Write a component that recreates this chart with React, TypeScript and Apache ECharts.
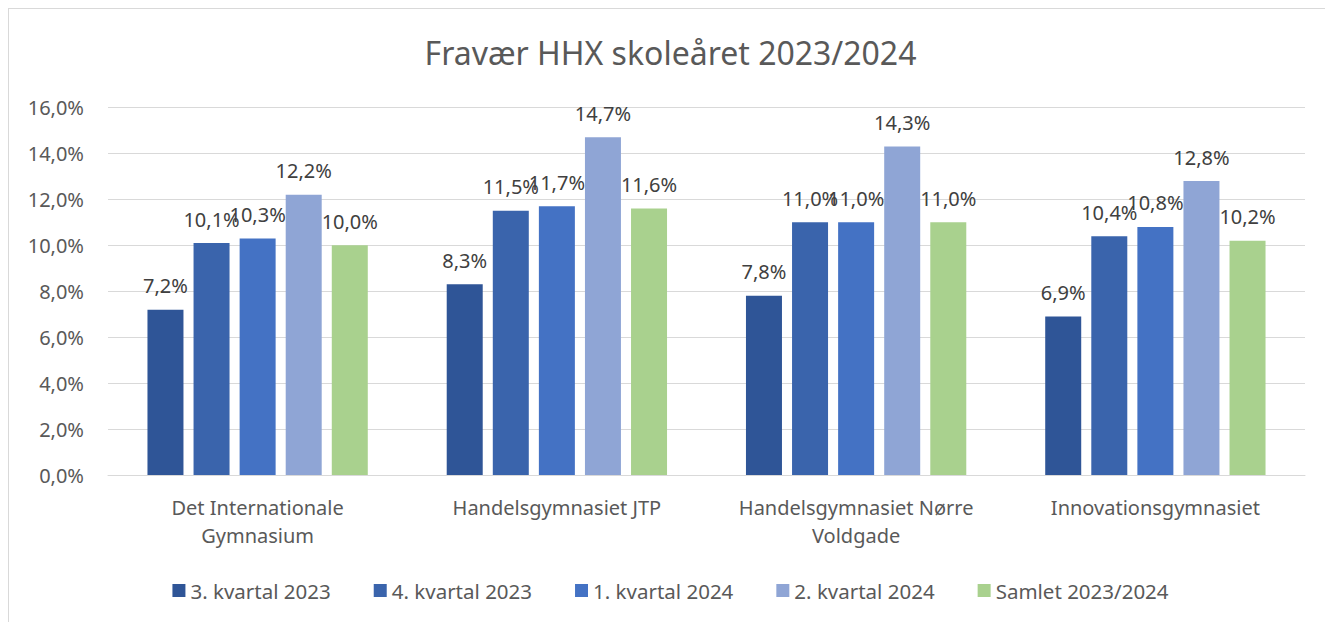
import React, { useEffect, useRef } from "react";
import * as echarts from "echarts";

const title = "Fravær HHX skoleåret 2023/2024";
const categories = [
  "Det Internationale\nGymnasium",
  "Handelsgymnasiet JTP",
  "Handelsgymnasiet Nørre\nVoldgade",
  "Innovationsgymnasiet",
];
const seriesNames = [
  "3. kvartal 2023",
  "4. kvartal 2023",
  "1. kvartal 2024",
  "2. kvartal 2024",
  "Samlet 2023/2024",
];
const q3_2023 = [7.2, 8.3, 7.8, 6.9];
const q4_2023 = [10.1, 11.5, 11.0, 10.4];
const q1_2024 = [10.3, 11.7, 11.0, 10.8];
const q2_2024 = [12.2, 14.7, 14.3, 12.8];
const samlet = [10.0, 11.6, 11.0, 10.2];
const seriesValues = [q3_2023, q4_2023, q1_2024, q2_2024, samlet];
const colors = ["#2F5597", "#3A64AC", "#4472C4", "#8FA5D5", "#A9D18E"];
const yTicks = { min: 0, max: 16, interval: 2 };

const FONT = "'Noto Sans', sans-serif";
const fmt = (v: number) => v.toFixed(1).replace(".", ",") + "%";

export default function App() {
  const ref = useRef<HTMLDivElement>(null);
  useEffect(() => {
    if (!ref.current) return;
    const chart = echarts.init(ref.current, undefined, { renderer: "svg" });
    chart.setOption({
      animation: false,
      backgroundColor: "#ffffff",
      textStyle: { fontFamily: FONT },
      graphic: [
        {
          type: "text",
          x: 661.5,
          y: 43,
          style: {
            text: title,
            fontFamily: FONT,
            fontSize: 32,
            fill: "#595959",
            textAlign: "center",
            textVerticalAlign: "middle",
          },
        },
      ],
      legend: {
        left: "center",
        top: 566,
        itemWidth: 13,
        itemHeight: 13,
        itemGap: 43,
        icon: "rect",
        textStyle: { fontFamily: FONT, fontSize: 20.5, color: "#595959" },
        data: seriesNames,
      },
      grid: { left: 99, right: 27, top: 98.5, bottom: 154, containLabel: false },
      xAxis: {
        type: "category",
        data: categories,
        axisLine: { lineStyle: { color: "#d9d9d9", width: 1 } },
        axisTick: { show: false },
        axisLabel: {
          fontFamily: FONT,
          fontSize: 20,
          color: "#595959",
          lineHeight: 28,
          margin: 18,
          interval: 0,
        },
      },
      yAxis: {
        type: "value",
        min: yTicks.min,
        max: yTicks.max,
        interval: yTicks.interval,
        axisLine: { show: false },
        axisTick: { show: false },
        splitLine: { lineStyle: { color: "#d9d9d9", width: 1 } },
        axisLabel: {
          fontFamily: FONT,
          fontSize: 20,
          color: "#595959",
          margin: 24,
          formatter: (v: number) => fmt(v),
        },
      },
      series: seriesNames.map((name, i) => ({
        name,
        type: "bar",
        data: seriesValues[i],
        barWidth: 36,
        barGap: "28%",
        itemStyle: { color: colors[i] },
        label: {
          show: true,
          position: "top",
          distance: 14,
          fontFamily: FONT,
          fontSize: 20,
          color: "#404040",
          formatter: (p: any) => fmt(p.value),
        },
      })),
    });
    return () => chart.dispose();
  }, []);
  return (
    <div
      style={{
        position: "fixed",
        left: 0,
        top: 0,
        width: 1325,
        height: 622,
        overflow: "hidden",
        background: "#fff",
      }}
    >
      <div
        style={{
          position: "absolute",
          left: 8,
          top: 8,
          width: 1325,
          height: 622,
          boxSizing: "border-box",
          border: "1px solid #d9d9d9",
        }}
      >
        <div ref={ref} style={{ width: 1323, height: 620 }} />
      </div>
    </div>
  );
}
